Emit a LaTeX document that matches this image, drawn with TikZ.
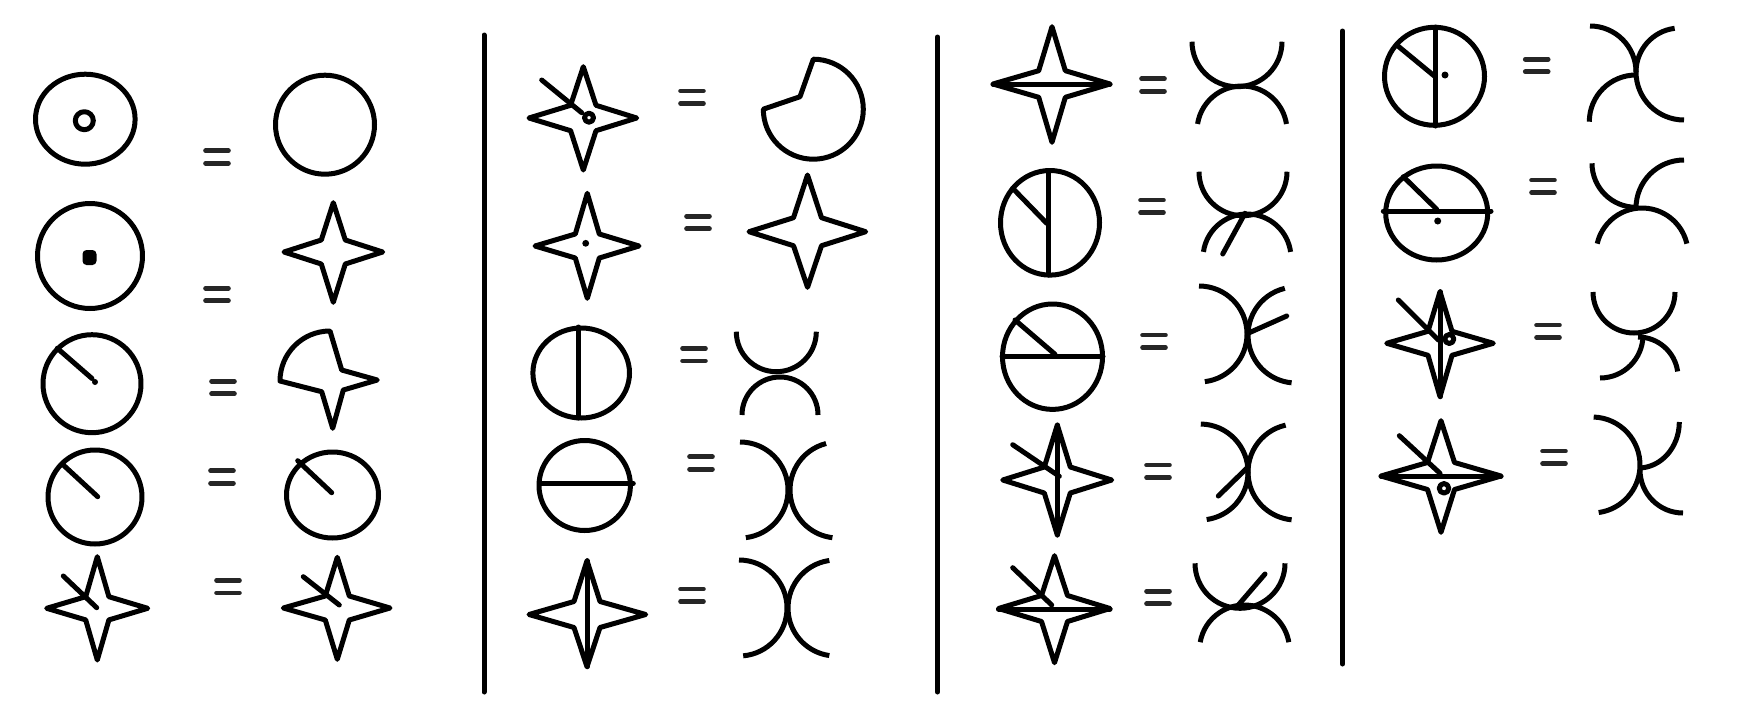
\documentclass[tikz,border=0pt]{standalone}
\tikzset{
  sym/.style={line width=5pt, line join=round, line cap=round, black},
  arcs/.style={line width=5pt, line cap=butt, black},
  eqbar/.style={line width=4.6pt, line cap=round, black!85},
  sepline/.style={line width=5pt, line cap=round, black}
}
% star: cx cy left right top bottom inner
\newcommand{\fstar}[7]{\draw[sym] (#1,#2-#5) -- (#1+#7,#2-#7) -- (#1+#4,#2) -- (#1+#7,#2+#7) -- (#1,#2+#6) -- (#1-#7,#2+#7) -- (#1-#3,#2) -- (#1-#7,#2-#7) -- cycle;}
% arc: cx cy r start end
\newcommand{\carc}[5]{\draw[arcs] (#1,#2) ++(#4:#3) arc[start angle=#4, end angle=#5, radius=#3];}
% equals sign: cx cy
\newcommand{\eqsgn}[2]{\draw[eqbar] (#1-11.5,#2-6.25) -- (#1+11.5,#2-6.25); \draw[eqbar] (#1-11.5,#2+6.25) -- (#1+11.5,#2+6.25);}
\begin{document}
\begin{tikzpicture}[x=1pt,y=-1pt]
\fill[white] (0,0) rectangle (1752,720);
\useasboundingbox (0,0) rectangle (1752,720);
% separators
\draw[sepline] (484,35) -- (484,692);
\draw[sepline] (937.5,37) -- (937.5,692);
\draw[sepline] (1342.5,31) -- (1342.5,664);
% ===== column 1 =====
\draw[sym] (85.3,119.2) ellipse[x radius=49.8, y radius=45];
\draw[sym] (84.3,120.7) circle[radius=9];
\eqsgn{217}{157}
\draw[sym] (325,124.7) circle[radius=49.5];
\draw[sym] (90,256) circle[radius=52.5];
\fill[rounded corners=4pt] (82.5,250) rectangle (96.5,265);
\eqsgn{217}{294.5}
\fstar{333.3}{252}{49.3}{49.4}{49.3}{50.3}{12}
\draw[sym] (92,383.7) circle[radius=49];
\draw[sym] (57.3,348.3) -- (92,378.5);
\fill (95,382) circle[radius=3];
\eqsgn{223}{387.5}
\draw[sym] (280,381) arc[start angle=180, end angle=270, radius=50] -- (341.7,370) -- (377.3,380) -- (343.3,390) -- (332.7,428.3) -- (321.7,391.7) -- cycle;
\draw[sym] (95,497) circle[radius=47];
\draw[sym] (63.3,465) -- (97.7,496.7);
\eqsgn{222}{477}
\draw[sym] (332.5,495) ellipse[x radius=46, y radius=43];
\draw[sym] (297.7,460.7) -- (331.7,492.7);
\fstar{97.3}{608.3}{50.6}{50.4}{51.6}{51.7}{11.6}
\draw[sym] (63.3,576) -- (96.7,607.7);
\eqsgn{228}{586.7}
\fstar{337.3}{608}{54}{52.7}{50.7}{51.3}{12}
\draw[sym] (303.3,576.7) -- (339.3,605);
% ===== column 2 =====
\fstar{583.3}{118}{54.3}{53.4}{51.3}{52}{12.7}
\draw[sym] (541.7,80) -- (581.7,112.7);
\draw[sym] (589,117.7) circle[radius=4.5];
\eqsgn{692}{97.2}
\draw[sym] (763.3,109.2) arc[start angle=180, end angle=-90, radius=50] -- (800,96.7) -- cycle;
\fstar{587.3}{246}{52.3}{51.7}{52.7}{52.3}{12}
\fill (585.7,243.3) circle[radius=3.4];
\eqsgn{698}{222.5}
\fstar{807.5}{231.7}{58.5}{58.2}{56.7}{55.6}{14}
\draw[sym] (581.2,373) ellipse[x radius=48.3, y radius=45];
\draw[sym] (578.3,327) -- (578.3,418);
\eqsgn{694}{354.7}
\carc{776.3}{331.7}{40}{180}{0}
\carc{780}{415}{38}{180}{360}
\draw[sym] (584.7,485.5) ellipse[x radius=45.7, y radius=45];
\draw[sym] (540,483.5) -- (633.3,483.5);
\eqsgn{701}{463}
\carc{740}{490}{48}{-90}{83}
\carc{838}{490}{48}{255.6}{96.7}
\fstar{587}{614.5}{58}{58.7}{53.8}{52.2}{13}
\draw[sym] (587,560.7) -- (587,666.7);
\eqsgn{692}{595.3}
\carc{739}{608}{48}{-90}{85}
\carc{836}{608}{48}{262}{98}
% ===== column 3 =====
\fstar{1052}{84}{59}{58}{57.3}{58.3}{13.3}
\draw[sym] (993,84) -- (1110,84);
\eqsgn{1153}{85}
\carc{1237}{41.7}{45}{180}{0}
\carc{1242}{131}{45}{189}{351}
\draw[sym] (1050,222.8) ellipse[x radius=49.5, y radius=52.3];
\draw[sym] (1048.3,170.5) -- (1048.3,275);
\draw[sym] (1012.7,188.3) -- (1046.7,223.3);
\eqsgn{1152}{206.3}
\carc{1243}{171.7}{44}{180}{0}
\carc{1247}{258}{44}{188}{352}
\draw[sym] (1222.7,254) -- (1245,213.3);
\draw[sym] (1052.5,356.7) ellipse[x radius=50, y radius=52.7];
\draw[sym] (1002,356) -- (1103,356);
\draw[sym] (1015,320) -- (1055,354.3);
\eqsgn{1154}{341.3}
\carc{1199}{334}{48}{-90}{83}
\carc{1296}{335}{48}{256.5}{95.3}
\draw[sym] (1249.3,332.7) -- (1286.7,316);
\fstar{1057.3}{480}{54.6}{54.4}{55}{55}{13}
\draw[sym] (1057.3,425) -- (1057.3,535);
\draw[sym] (1012.7,444.7) -- (1059.3,476.3);
\eqsgn{1158}{471.3}
\carc{1200}{472}{48}{-89}{82}
\carc{1296}{472}{48}{257.5}{95.3}
\draw[sym] (1218.3,496) -- (1248.3,466.7);
\fstar{1054.5}{608.5}{56}{55.5}{52.8}{54.2}{13}
\draw[sym] (998.5,609) -- (1110,609);
\draw[sym] (1012.7,567.7) -- (1051.7,605);
\eqsgn{1158}{597.5}
\carc{1240}{563.3}{45}{180}{0}
\carc{1244.5}{650}{45}{190}{350}
\draw[sym] (1238.3,605) -- (1265,574);
% ===== column 4 =====
\draw[sym] (1434.5,76.3) ellipse[x radius=50, y radius=49];
\draw[sym] (1435.7,27) -- (1435.7,126);
\draw[sym] (1396.7,45) -- (1434.3,76);
\fill (1445,75) circle[radius=3.5];
\eqsgn{1536.7}{65.5}
\carc{1590}{72}{46}{270}{360}
\carc{1684}{72}{48}{180}{90}
\carc{1680}{72}{44}{263}{180}
\carc{1636}{121.7}{46.7}{270}{180}
\draw[sym] (1436.7,213) ellipse[x radius=51, y radius=47];
\draw[sym] (1383.3,211) -- (1491,211);
\draw[sym] (1403.3,176.7) -- (1436.7,209.3);
\fill (1437.7,221) circle[radius=3.5];
\eqsgn{1543}{186.3}
\carc{1636}{163.3}{44}{180}{90}
\carc{1684}{208}{48}{270}{180}
\carc{1642}{254}{46}{193}{347}
\fstar{1440}{343.3}{53.3}{53.3}{51.6}{53.4}{12}
\draw[sym] (1440,291.7) -- (1440,396.7);
\draw[sym] (1398.3,300) -- (1438.3,340);
\draw[sym] (1449.3,339) circle[radius=4.5];
\eqsgn{1548}{331.3}
\carc{1634}{292}{41}{180}{0}
\carc{1600}{335}{43}{0}{90}
\carc{1638}{377}{40}{270}{352}
\fstar{1441}{476}{60}{60}{55.3}{56.3}{13.5}
\draw[sym] (1381,476) -- (1501,476);
\draw[sym] (1399.3,435.7) -- (1440,473.3);
\draw[sym] (1444,488.3) circle[radius=4.75];
\eqsgn{1554}{457.3}
\carc{1592}{465}{48}{-88}{82}
\draw[arcs] (1679.3,422) arc[start angle=0, end angle=90, x radius=41, y radius=46];
\carc{1683}{470}{43}{180}{90}
\end{tikzpicture}
\end{document}
